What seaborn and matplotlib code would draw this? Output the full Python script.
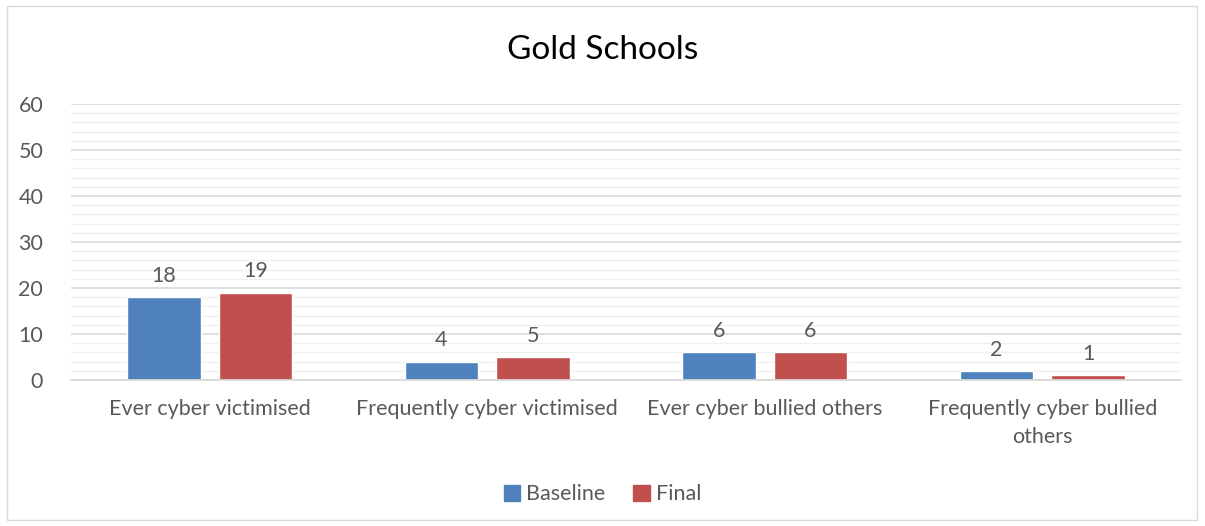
import matplotlib
matplotlib.use("Agg")
import matplotlib.pyplot as plt
import seaborn as sns
import pandas as pd
from matplotlib.ticker import MultipleLocator
from matplotlib.patches import Rectangle

categories = ["Ever cyber victimised", "Frequently cyber victimised",
              "Ever cyber bullied others", "Frequently cyber bullied\nothers"]
series_names = ["Baseline", "Final"]
baseline = [18, 4, 6, 2]
final = [19, 5, 6, 1]
colors = ["#4F81BD", "#C0504D"]

df = pd.DataFrame({
    "category": categories * 2,
    "series": [series_names[0]] * 4 + [series_names[1]] * 4,
    "value": baseline + final,
})

sns.set_theme(style="white")
plt.rcParams["font.family"] = ["Lato", "DejaVu Sans"]
txt = "#595959"
fs = 15.5

fig = plt.figure(figsize=(12.05, 5.26), dpi=100)
ax = fig.add_axes([0.0589, 0.2776, 0.9212, 0.5247])
sns.barplot(data=df, x="category", y="value", hue="series", order=categories,
            hue_order=series_names, palette=colors, width=0.66, gap=0.2,
            ax=ax, legend=True, saturation=1)

for cont in ax.containers:
    ax.bar_label(cont, fmt="%d", padding=8, fontsize=fs, color=txt)

ax.set_ylim(0, 60)
ax.yaxis.set_major_locator(MultipleLocator(10))
ax.yaxis.set_minor_locator(MultipleLocator(2))
ax.grid(axis="y", which="major", color="#D9D9D9", linewidth=1.2)
ax.grid(axis="y", which="minor", color="#F0F0F0", linewidth=1.0)
ax.set_axisbelow(True)
for s in ["top", "right", "left"]:
    ax.spines[s].set_visible(False)
ax.spines["bottom"].set_color("#D9D9D9")
ax.set_xlabel("")
ax.set_ylabel("")
ax.tick_params(axis="both", which="both", length=0, labelsize=fs, colors=txt)
ax.tick_params(axis="x", pad=14)
ax.tick_params(axis="y", pad=20)
for lab in ax.get_xticklabels():
    lab.set_linespacing(1.45)

ax.legend_.remove()
handles = [Rectangle((0, 0), 1, 1, color=c) for c in colors]
fig.legend(handles, series_names, loc="center", bbox_to_anchor=(0.5, 0.06),
           ncol=2, frameon=False, fontsize=fs, labelcolor=txt,
           handlelength=0.75, handleheight=0.75, handletextpad=0.3, columnspacing=1.3)

fig.text(0.5, 0.905, "Gold Schools", ha="center", va="center", fontsize=24, color="black")

fig.patches.append(Rectangle((7 / 1205, 6 / 526), 1190 / 1205, 514 / 526,
                             transform=fig.transFigure, fill=False,
                             edgecolor="#D9D9D9", linewidth=1))

fig.savefig("out.png", dpi=100)
